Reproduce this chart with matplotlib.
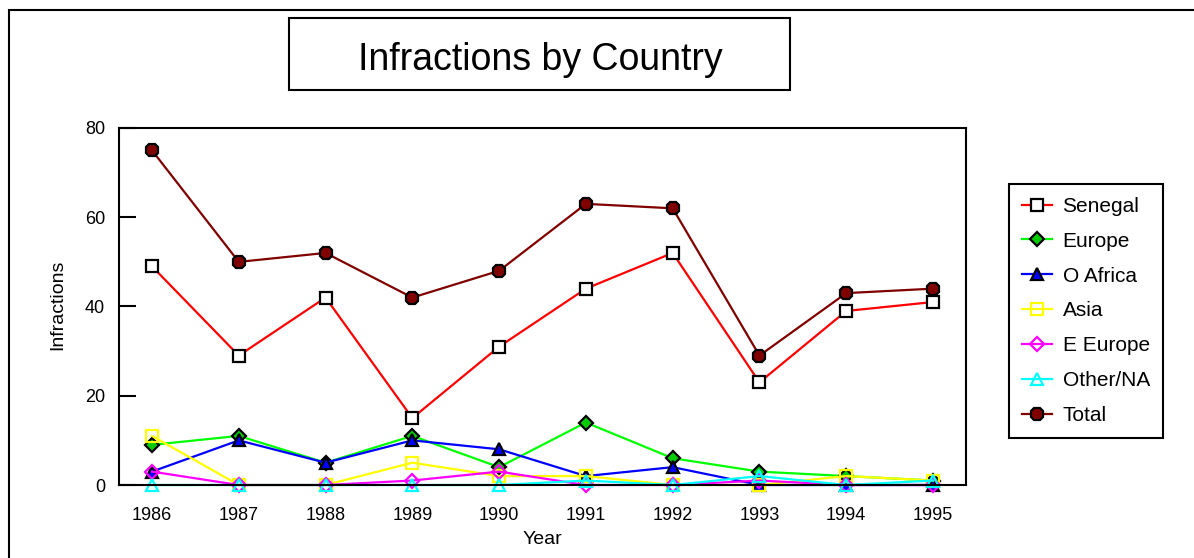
import matplotlib
matplotlib.use("Agg")
import matplotlib.pyplot as plt
from matplotlib.patches import Rectangle

plt.rcParams['font.family'] = ['Liberation Sans', 'DejaVu Sans']

years = [1986, 1987, 1988, 1989, 1990, 1991, 1992, 1993, 1994, 1995]
senegal = [49, 29, 42, 15, 31, 44, 52, 23, 39, 41]
europe = [9, 11, 5, 11, 4, 14, 6, 3, 2, 1]
o_africa = [3, 10, 5, 10, 8, 2, 4, 0, 0, 0]
asia = [11, 0, 0, 5, 2, 2, 0, 0, 2, 1]
e_europe = [3, 0, 0, 1, 3, 0, 0, 1, 0, 0]
other_na = [0, 0, 0, 0, 0, 1, 0, 2, 0, 1]
total = [75, 50, 52, 42, 48, 63, 62, 29, 43, 44]
yticks = [0, 20, 40, 60, 80]

W, H = 1194, 558
fig = plt.figure(figsize=(W / 100, H / 100), dpi=100)

def fx(px):
    return px / W

def fy(py):
    return 1 - py / H

ax = fig.add_axes([fx(119), fy(485), fx(966) - fx(119), fy(128) - fy(485)])

lw = 1.6
mew = 1.6
series = [
    ("Senegal", senegal, dict(color="#ff0000", marker="s", mfc="white", mec="black", ms=8.5)),
    ("Europe", europe, dict(color="#00ff00", marker="D", mfc="#00cc00", mec="black", ms=7.5)),
    ("O Africa", o_africa, dict(color="#0000ff", marker="^", mfc="#0000ff", mec="black", ms=9)),
    ("Asia", asia, dict(color="#ffff00", marker="s", mfc="none", mec="#ffff00", ms=8.5)),
    ("E Europe", e_europe, dict(color="#ff00ff", marker="D", mfc="none", mec="#ff00ff", ms=7.5)),
    ("Other/NA", other_na, dict(color="#00ffff", marker="^", mfc="none", mec="#00ffff", ms=9)),
    ("Total", total, dict(color="#800000", marker="8", mfc="#800000", mec="black", ms=10)),
]
for name, vals, st in series:
    ax.plot(years, vals, label=name, lw=lw, mew=mew, clip_on=False, **st)

ax.set_xlim(1985.62, 1995.38)
ax.set_ylim(0, 80)
ax.set_xticks(years)
ax.set_yticks(yticks)
ax.tick_params(axis='y', direction='in', length=12, width=1.5, labelsize=13, pad=10)
ax.tick_params(axis='x', length=0, labelsize=13, pad=16)
for s in ax.spines.values():
    s.set_linewidth(1.5)
    s.set_color("black")

fig.text(fx(542), fy(540), "Year", ha="center", va="center", fontsize=14)
fig.text(fx(58), fy(305), "Infractions", ha="center", va="center", rotation=90, fontsize=14)

# outer border
fig.add_artist(Rectangle((fx(9), fy(600)), fx(1250) - fx(9), fy(10) - fy(600),
                         transform=fig.transFigure, fill=False, edgecolor="black",
                         lw=1.5, clip_on=False))
# title box
fig.add_artist(Rectangle((fx(289), fy(90)), fx(790) - fx(289), fy(18) - fy(90),
                         transform=fig.transFigure, fill=False, edgecolor="black",
                         lw=1.5))
fig.text(fx(540), fy(70), "Infractions by Country", ha="center", va="baseline", fontsize=27)

leg = fig.legend(loc="upper left", bbox_to_anchor=(fx(1009), fy(184)),
                 bbox_transform=fig.transFigure, fontsize=15, frameon=True,
                 fancybox=False, edgecolor="black", framealpha=1,
                 handlelength=1.45, handletextpad=0.5, labelspacing=0.76,
                 borderpad=0.62, borderaxespad=0, markerscale=1.0)
leg.get_frame().set_linewidth(1.5)

fig.savefig("out.png", dpi=100)
